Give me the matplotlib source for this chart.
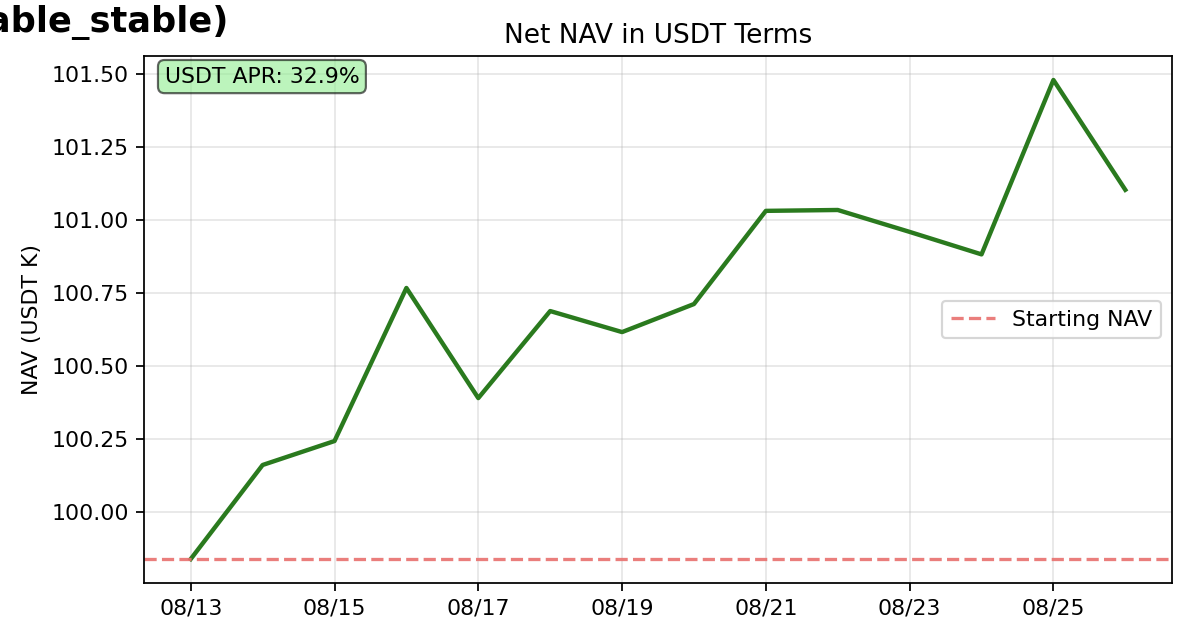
import matplotlib
matplotlib.use('Agg')

import matplotlib.pyplot as plt
import matplotlib.dates as mdates
import numpy as np
import pandas as pd

# daily net NAV (USDT K)
dates = pd.date_range('2025-08-13', '2025-08-26', freq='D')
nav = [99.839, 100.161, 100.243, 100.767, 100.390, 100.688, 100.616,
       100.712, 101.031, 101.034, 100.959, 100.882, 101.479, 101.103]
start_nav = 99.839
apr = 32.9

DPI = 158
fig = plt.figure(figsize=(1200 / DPI, 642 / DPI), dpi=DPI)
ax = fig.add_axes([0.12, 0.0919, 0.8567, 0.8208])

ax.plot(dates, nav, color='#2a7a1e', linewidth=2)
ax.axhline(start_nav, color='#e8706e', linestyle='--', alpha=0.9, linewidth=1.5,
           label='Starting NAV')

ax.set_title('Net NAV in USDT Terms', fontsize=12)
ax.set_ylabel('NAV (USDT K)')
ax.grid(True, alpha=0.3)
ax.legend(loc='center right')

ax.set_xticks(dates[::2])
ax.xaxis.set_major_formatter(mdates.DateFormatter('%m/%d'))

ax.text(0.02, 0.98, f'USDT APR: {apr}%', transform=ax.transAxes, va='top',
        bbox=dict(boxstyle='round', facecolor='lightgreen', alpha=0.6))

# figure title, left part falls outside the crop
fig.text(228 / 1200, 1 - 32 / 642, '(stable_stable)', ha='right', va='baseline',
         fontsize=16, fontweight='bold')

fig.savefig('out.png', dpi=DPI)
